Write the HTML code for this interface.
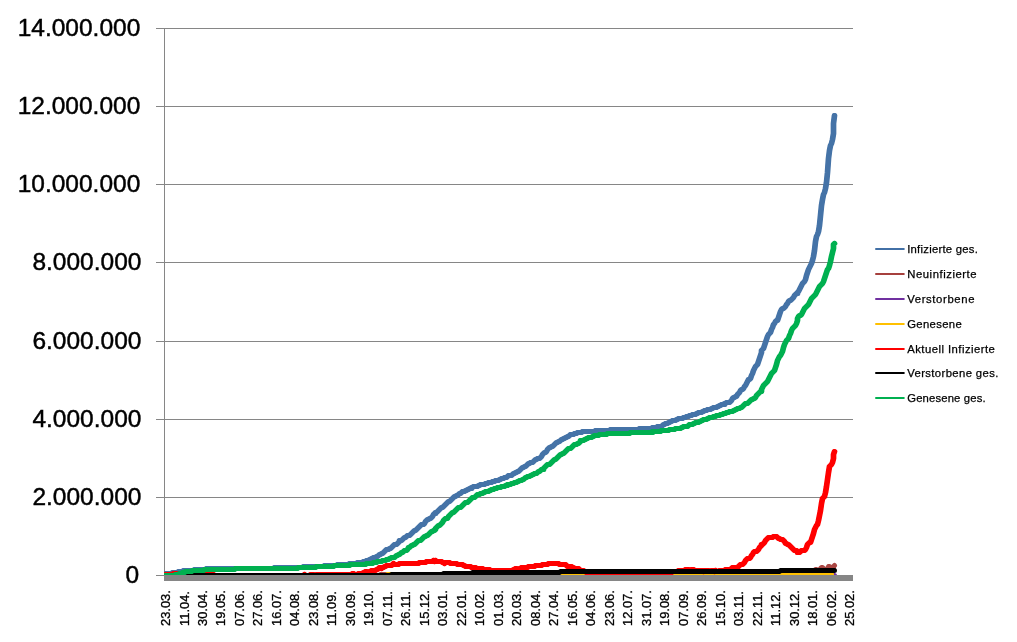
<!DOCTYPE html>
<html lang="de"><head><meta charset="utf-8"><title>Diagramm</title>
<style>html,body{margin:0;padding:0;background:#fff;}body{width:1017px;height:642px;overflow:hidden;}svg{display:block;}.yl{font-family:"Liberation Sans",sans-serif;font-size:24.5px;fill:#000;text-anchor:end;stroke:#000;stroke-width:0.45px;}.xl{font-family:"Liberation Sans",sans-serif;font-size:12.9px;fill:#000;stroke:#000;stroke-width:0.3px;}.lg{font-family:"Liberation Sans",sans-serif;font-size:11.3px;fill:#000;stroke:#000;stroke-width:0.25px;}.s{fill:none;stroke-width:5;stroke-linejoin:round;stroke-linecap:round;}</style></head><body>
<svg width="1017" height="642" viewBox="0 0 1017 642">
<rect width="1017" height="642" fill="#fff"/>
<g fill="#868686" shape-rendering="crispEdges">
<rect x="156" y="28" width="697" height="1"/>
<rect x="156" y="106" width="697" height="1"/>
<rect x="156" y="184" width="697" height="1"/>
<rect x="156" y="262" width="697" height="1"/>
<rect x="156" y="341" width="697" height="1"/>
<rect x="156" y="419" width="697" height="1"/>
<rect x="156" y="497" width="697" height="1"/>
<rect x="164" y="28" width="1" height="548"/>
<rect x="156" y="575" width="9" height="1"/>
</g>
<clipPath id="pc"><rect x="164" y="20" width="700" height="570"/></clipPath>
<g class="s" clip-path="url(#pc)">
<g stroke="#4573a7"><path transform="translate(-0.35 0)" d="M164.5 573.5 L171.5 573.5 L172.5 572.5 L177.5 572.5 L178.5 571.5 L182.5 571.5 L183.5 570.5 L193.5 570.5 L194.5 569.5 L205.5 569.5 L206.5 568.5 L273.5 568.5 L274.5 567.5 L302.5 567.5 L303.5 566.5 L323.5 566.5 L324.5 565.5 L336.5 565.5 L337.5 564.5 L348.5 564.5 L349.5 563.5 L356.5 563.5 L357.5 562.5 L363.5 562.5 L363.5 561.5 L365.5 561.5 L366.5 560.5 L368.5 560.5 L369.5 559.5 L370.5 559.5 L371.5 558.5 L372.5 558.5 L373.5 557.5 L375.5 557.5 L376.5 556.5 L377.5 556.5 L378.5 555.5 L379.5 554.5 L380.5 554.5 L381.5 553.5 L382.5 553.5 L383.5 552.5 L384.5 551.5 L385.5 550.5 L386.5 549.5 L388.5 549.5 L389.5 548.5 L390.5 548.5 L391.5 547.5 L392.5 546.5 L393.5 545.5 L394.5 544.5 L396.5 544.5 L397.5 543.5 L398.5 542.5 L399.5 541.5 L399.5 540.5 L401.5 540.5 L402.5 539.5 L403.5 538.5 L404.5 537.5 L405.5 537.5 L406.5 536.5 L407.5 535.5 L409.5 535.5 L410.5 534.5 L411.5 533.5 L412.5 532.5 L413.5 531.5 L414.5 530.5 L415.5 530.5 L416.5 529.5 L417.5 528.5 L418.5 527.5 L419.5 526.5 L420.5 525.5 L421.5 524.5 L423.5 524.5 L424.5 523.5 L425.5 521.5 L426.5 520.5 L427.5 519.5 L428.5 519.5 L429.5 518.5 L430.5 518.5 L431.5 517.5 L432.5 516.5 L433.5 514.5 L434.5 513.5 L435.5 513.5 L435.5 512.5 L436.5 512.5 L437.5 511.5 L438.5 510.5 L439.5 509.5 L440.5 508.5 L441.5 507.5 L442.5 507.5 L443.5 506.5 L444.5 505.5 L445.5 504.5 L446.5 503.5 L447.5 502.5 L448.5 501.5 L449.5 501.5 L450.5 500.5 L451.5 499.5 L452.5 498.5 L453.5 497.5 L454.5 496.5 L455.5 496.5 L456.5 495.5 L457.5 495.5 L458.5 494.5 L459.5 493.5 L460.5 493.5 L461.5 492.5 L462.5 491.5 L464.5 491.5 L465.5 490.5 L466.5 490.5 L467.5 489.5 L468.5 489.5 L469.5 488.5 L471.5 488.5 L471.5 487.5 L472.5 487.5 L473.5 486.5 L477.5 486.5 L478.5 485.5 L479.5 485.5 L480.5 484.5 L484.5 484.5 L485.5 483.5 L487.5 483.5 L488.5 482.5 L491.5 482.5 L492.5 481.5 L494.5 481.5 L495.5 480.5 L498.5 480.5 L499.5 479.5 L500.5 479.5 L501.5 478.5 L503.5 478.5 L504.5 477.5 L506.5 477.5 L507.5 476.5 L508.5 475.5 L511.5 475.5 L512.5 474.5 L513.5 473.5 L514.5 473.5 L515.5 472.5 L516.5 472.5 L517.5 471.5 L518.5 471.5 L519.5 470.5 L520.5 469.5 L521.5 468.5 L522.5 467.5 L523.5 467.5 L524.5 466.5 L525.5 466.5 L526.5 465.5 L527.5 464.5 L528.5 463.5 L529.5 463.5 L530.5 462.5 L532.5 462.5 L533.5 461.5 L534.5 460.5 L535.5 459.5 L536.5 459.5 L537.5 458.5 L539.5 458.5 L540.5 457.5 L541.5 456.5 L542.5 454.5 L543.5 453.5 L544.5 452.5 L545.5 452.5 L546.5 451.5 L547.5 449.5 L548.5 448.5 L549.5 447.5 L550.5 447.5 L551.5 446.5 L552.5 446.5 L553.5 445.5 L554.5 444.5 L555.5 443.5 L556.5 442.5 L557.5 442.5 L558.5 441.5 L559.5 441.5 L560.5 440.5 L561.5 439.5 L562.5 439.5 L563.5 438.5 L564.5 438.5 L565.5 437.5 L566.5 437.5 L567.5 436.5 L568.5 436.5 L569.5 435.5 L570.5 434.5 L573.5 434.5 L574.5 433.5 L576.5 433.5 L577.5 432.5 L581.5 432.5 L582.5 431.5 L594.5 431.5 L595.5 430.5 L609.5 430.5 L610.5 429.5 L638.5 429.5 L639.5 428.5 L651.5 428.5 L652.5 427.5 L656.5 427.5 L657.5 426.5 L661.5 426.5 L662.5 425.5 L663.5 424.5 L664.5 424.5 L665.5 423.5 L667.5 423.5 L668.5 422.5 L669.5 422.5 L670.5 421.5 L671.5 421.5 L672.5 420.5 L675.5 420.5 L676.5 419.5 L677.5 419.5 L678.5 418.5 L682.5 418.5 L683.5 417.5 L685.5 417.5 L686.5 416.5 L688.5 416.5 L689.5 415.5 L691.5 415.5 L692.5 414.5 L695.5 414.5 L696.5 413.5 L697.5 413.5 L698.5 412.5 L701.5 412.5 L702.5 411.5 L703.5 411.5 L704.5 410.5 L706.5 410.5 L707.5 409.5 L710.5 409.5 L711.5 408.5 L712.5 408.5 L713.5 407.5 L716.5 407.5 L717.5 406.5 L718.5 406.5 L719.5 405.5 L720.5 405.5 L721.5 404.5 L724.5 404.5 L724.5 403.5 L725.5 403.5 L726.5 402.5 L729.5 402.5 L730.5 401.5 L731.5 400.5 L732.5 398.5 L733.5 397.5 L734.5 397.5 L735.5 396.5 L736.5 396.5 L737.5 394.5 L738.5 393.5 L739.5 392.5 L740.5 390.5 L741.5 389.5 L742.5 389.5 L743.5 388.5 L744.5 386.5 L745.5 385.5 L746.5 383.5 L747.5 381.5 L748.5 379.5 L749.5 379.5 L750.5 378.5 L751.5 375.5 L752.5 373.5 L753.5 370.5 L754.5 368.5 L755.5 366.5 L756.5 365.5 L757.5 364.5 L758.5 361.5 L759.5 358.5 L760.5 355.5 L761.5 352.5 L761.5 350.5 L762.5 349.5 L763.5 348.5 L764.5 345.5 L765.5 342.5 L766.5 339.5 L767.5 336.5 L768.5 334.5 L769.5 333.5 L770.5 332.5 L771.5 329.5 L772.5 327.5 L773.5 324.5 L774.5 323.5 L775.5 321.5 L776.5 320.5 L777.5 320.5 L778.5 317.5 L779.5 314.5 L780.5 311.5 L781.5 309.5 L782.5 308.5 L783.5 308.5 L784.5 307.5 L785.5 306.5 L786.5 304.5 L787.5 303.5 L788.5 301.5 L789.5 300.5 L790.5 300.5 L791.5 299.5 L792.5 298.5 L793.5 297.5 L794.5 295.5 L795.5 294.5 L796.5 293.5 L797.5 293.5 L797.5 292.5 L798.5 291.5 L799.5 289.5 L800.5 287.5 L801.5 285.5 L802.5 283.5 L803.5 282.5 L804.5 281.5 L805.5 279.5 L806.5 275.5 L807.5 272.5 L808.5 269.5 L809.5 267.5 L810.5 265.5 L811.5 263.5 L812.5 260.5 L813.5 256.5 L814.5 250.5 L815.5 241.5 L816.5 236.5 L817.5 234.5 L818.5 231.5 L819.5 225.5 L820.5 215.5 L821.5 205.5 L822.5 199.5 L823.5 194.5 L824.5 192.5 L825.5 188.5 L826.5 182.5 L827.5 172.5 L828.5 158.5 L829.5 150.5 L830.5 145.5 L831.5 143.5 L832.5 139.5 L833.5 133.5 L833.5 123.5 L834.5 115.5"/><path transform="translate(0.35 0)" d="M164.5 573.5 L171.5 573.5 L172.5 572.5 L177.5 572.5 L178.5 571.5 L182.5 571.5 L183.5 570.5 L193.5 570.5 L194.5 569.5 L205.5 569.5 L206.5 568.5 L273.5 568.5 L274.5 567.5 L302.5 567.5 L303.5 566.5 L323.5 566.5 L324.5 565.5 L336.5 565.5 L337.5 564.5 L348.5 564.5 L349.5 563.5 L356.5 563.5 L357.5 562.5 L363.5 562.5 L363.5 561.5 L365.5 561.5 L366.5 560.5 L368.5 560.5 L369.5 559.5 L370.5 559.5 L371.5 558.5 L372.5 558.5 L373.5 557.5 L375.5 557.5 L376.5 556.5 L377.5 556.5 L378.5 555.5 L379.5 554.5 L380.5 554.5 L381.5 553.5 L382.5 553.5 L383.5 552.5 L384.5 551.5 L385.5 550.5 L386.5 549.5 L388.5 549.5 L389.5 548.5 L390.5 548.5 L391.5 547.5 L392.5 546.5 L393.5 545.5 L394.5 544.5 L396.5 544.5 L397.5 543.5 L398.5 542.5 L399.5 541.5 L399.5 540.5 L401.5 540.5 L402.5 539.5 L403.5 538.5 L404.5 537.5 L405.5 537.5 L406.5 536.5 L407.5 535.5 L409.5 535.5 L410.5 534.5 L411.5 533.5 L412.5 532.5 L413.5 531.5 L414.5 530.5 L415.5 530.5 L416.5 529.5 L417.5 528.5 L418.5 527.5 L419.5 526.5 L420.5 525.5 L421.5 524.5 L423.5 524.5 L424.5 523.5 L425.5 521.5 L426.5 520.5 L427.5 519.5 L428.5 519.5 L429.5 518.5 L430.5 518.5 L431.5 517.5 L432.5 516.5 L433.5 514.5 L434.5 513.5 L435.5 513.5 L435.5 512.5 L436.5 512.5 L437.5 511.5 L438.5 510.5 L439.5 509.5 L440.5 508.5 L441.5 507.5 L442.5 507.5 L443.5 506.5 L444.5 505.5 L445.5 504.5 L446.5 503.5 L447.5 502.5 L448.5 501.5 L449.5 501.5 L450.5 500.5 L451.5 499.5 L452.5 498.5 L453.5 497.5 L454.5 496.5 L455.5 496.5 L456.5 495.5 L457.5 495.5 L458.5 494.5 L459.5 493.5 L460.5 493.5 L461.5 492.5 L462.5 491.5 L464.5 491.5 L465.5 490.5 L466.5 490.5 L467.5 489.5 L468.5 489.5 L469.5 488.5 L471.5 488.5 L471.5 487.5 L472.5 487.5 L473.5 486.5 L477.5 486.5 L478.5 485.5 L479.5 485.5 L480.5 484.5 L484.5 484.5 L485.5 483.5 L487.5 483.5 L488.5 482.5 L491.5 482.5 L492.5 481.5 L494.5 481.5 L495.5 480.5 L498.5 480.5 L499.5 479.5 L500.5 479.5 L501.5 478.5 L503.5 478.5 L504.5 477.5 L506.5 477.5 L507.5 476.5 L508.5 475.5 L511.5 475.5 L512.5 474.5 L513.5 473.5 L514.5 473.5 L515.5 472.5 L516.5 472.5 L517.5 471.5 L518.5 471.5 L519.5 470.5 L520.5 469.5 L521.5 468.5 L522.5 467.5 L523.5 467.5 L524.5 466.5 L525.5 466.5 L526.5 465.5 L527.5 464.5 L528.5 463.5 L529.5 463.5 L530.5 462.5 L532.5 462.5 L533.5 461.5 L534.5 460.5 L535.5 459.5 L536.5 459.5 L537.5 458.5 L539.5 458.5 L540.5 457.5 L541.5 456.5 L542.5 454.5 L543.5 453.5 L544.5 452.5 L545.5 452.5 L546.5 451.5 L547.5 449.5 L548.5 448.5 L549.5 447.5 L550.5 447.5 L551.5 446.5 L552.5 446.5 L553.5 445.5 L554.5 444.5 L555.5 443.5 L556.5 442.5 L557.5 442.5 L558.5 441.5 L559.5 441.5 L560.5 440.5 L561.5 439.5 L562.5 439.5 L563.5 438.5 L564.5 438.5 L565.5 437.5 L566.5 437.5 L567.5 436.5 L568.5 436.5 L569.5 435.5 L570.5 434.5 L573.5 434.5 L574.5 433.5 L576.5 433.5 L577.5 432.5 L581.5 432.5 L582.5 431.5 L594.5 431.5 L595.5 430.5 L609.5 430.5 L610.5 429.5 L638.5 429.5 L639.5 428.5 L651.5 428.5 L652.5 427.5 L656.5 427.5 L657.5 426.5 L661.5 426.5 L662.5 425.5 L663.5 424.5 L664.5 424.5 L665.5 423.5 L667.5 423.5 L668.5 422.5 L669.5 422.5 L670.5 421.5 L671.5 421.5 L672.5 420.5 L675.5 420.5 L676.5 419.5 L677.5 419.5 L678.5 418.5 L682.5 418.5 L683.5 417.5 L685.5 417.5 L686.5 416.5 L688.5 416.5 L689.5 415.5 L691.5 415.5 L692.5 414.5 L695.5 414.5 L696.5 413.5 L697.5 413.5 L698.5 412.5 L701.5 412.5 L702.5 411.5 L703.5 411.5 L704.5 410.5 L706.5 410.5 L707.5 409.5 L710.5 409.5 L711.5 408.5 L712.5 408.5 L713.5 407.5 L716.5 407.5 L717.5 406.5 L718.5 406.5 L719.5 405.5 L720.5 405.5 L721.5 404.5 L724.5 404.5 L724.5 403.5 L725.5 403.5 L726.5 402.5 L729.5 402.5 L730.5 401.5 L731.5 400.5 L732.5 398.5 L733.5 397.5 L734.5 397.5 L735.5 396.5 L736.5 396.5 L737.5 394.5 L738.5 393.5 L739.5 392.5 L740.5 390.5 L741.5 389.5 L742.5 389.5 L743.5 388.5 L744.5 386.5 L745.5 385.5 L746.5 383.5 L747.5 381.5 L748.5 379.5 L749.5 379.5 L750.5 378.5 L751.5 375.5 L752.5 373.5 L753.5 370.5 L754.5 368.5 L755.5 366.5 L756.5 365.5 L757.5 364.5 L758.5 361.5 L759.5 358.5 L760.5 355.5 L761.5 352.5 L761.5 350.5 L762.5 349.5 L763.5 348.5 L764.5 345.5 L765.5 342.5 L766.5 339.5 L767.5 336.5 L768.5 334.5 L769.5 333.5 L770.5 332.5 L771.5 329.5 L772.5 327.5 L773.5 324.5 L774.5 323.5 L775.5 321.5 L776.5 320.5 L777.5 320.5 L778.5 317.5 L779.5 314.5 L780.5 311.5 L781.5 309.5 L782.5 308.5 L783.5 308.5 L784.5 307.5 L785.5 306.5 L786.5 304.5 L787.5 303.5 L788.5 301.5 L789.5 300.5 L790.5 300.5 L791.5 299.5 L792.5 298.5 L793.5 297.5 L794.5 295.5 L795.5 294.5 L796.5 293.5 L797.5 293.5 L797.5 292.5 L798.5 291.5 L799.5 289.5 L800.5 287.5 L801.5 285.5 L802.5 283.5 L803.5 282.5 L804.5 281.5 L805.5 279.5 L806.5 275.5 L807.5 272.5 L808.5 269.5 L809.5 267.5 L810.5 265.5 L811.5 263.5 L812.5 260.5 L813.5 256.5 L814.5 250.5 L815.5 241.5 L816.5 236.5 L817.5 234.5 L818.5 231.5 L819.5 225.5 L820.5 215.5 L821.5 205.5 L822.5 199.5 L823.5 194.5 L824.5 192.5 L825.5 188.5 L826.5 182.5 L827.5 172.5 L828.5 158.5 L829.5 150.5 L830.5 145.5 L831.5 143.5 L832.5 139.5 L833.5 133.5 L833.5 123.5 L834.5 115.5"/></g>
<path d="M164.5 575.5 L379.5 575.5 L380.5 574.5 L789.5 574.5 L790.5 573.5 L804.5 573.5 L805.5 572.5 L809.5 572.5 L810.5 571.5 L812.5 571.5 L813.5 570.5 L814.5 570.5 L815.5 569.5 L816.5 569.5 L817.5 570.5 L819.5 570.5 L820.5 568.5 L821.5 567.5 L822.5 567.5 L823.5 568.5 L824.5 569.5 L826.5 569.5 L827.5 568.5 L828.5 566.5 L829.5 566.5 L830.5 567.5 L831.5 568.5 L833.5 568.5 L833.5 566.5 L834.5 565.5" stroke="#aa4643"/>
<path d="M164.5 575.5 L834.5 575.5" stroke="#7030a0"/>
<path d="M164.5 575.5 L386.5 575.5 L387.5 574.5 L831.5 574.5" stroke="#ffc000"/>
<g stroke="#ff0000"><path transform="translate(-0.35 0)" d="M164.5 574.5 L172.5 574.5 L173.5 573.5 L184.5 573.5 L185.5 574.5 L186.5 573.5 L190.5 573.5 L191.5 574.5 L213.5 574.5 L214.5 575.5 L303.5 575.5 L304.5 574.5 L305.5 575.5 L309.5 575.5 L310.5 574.5 L313.5 574.5 L314.5 575.5 L315.5 575.5 L316.5 574.5 L351.5 574.5 L352.5 573.5 L353.5 573.5 L354.5 574.5 L357.5 574.5 L358.5 573.5 L363.5 573.5 L363.5 572.5 L364.5 572.5 L365.5 571.5 L366.5 571.5 L367.5 572.5 L368.5 572.5 L369.5 571.5 L370.5 571.5 L371.5 570.5 L375.5 570.5 L376.5 569.5 L377.5 569.5 L378.5 568.5 L379.5 567.5 L380.5 567.5 L381.5 568.5 L382.5 567.5 L383.5 567.5 L384.5 566.5 L385.5 566.5 L386.5 565.5 L391.5 565.5 L392.5 564.5 L393.5 563.5 L394.5 564.5 L398.5 564.5 L399.5 563.5 L418.5 563.5 L419.5 562.5 L425.5 562.5 L426.5 561.5 L432.5 561.5 L433.5 560.5 L434.5 561.5 L435.5 560.5 L435.5 561.5 L441.5 561.5 L442.5 562.5 L443.5 562.5 L444.5 563.5 L445.5 562.5 L449.5 562.5 L450.5 563.5 L456.5 563.5 L457.5 564.5 L462.5 564.5 L463.5 565.5 L464.5 565.5 L465.5 566.5 L470.5 566.5 L471.5 567.5 L475.5 567.5 L476.5 568.5 L482.5 568.5 L483.5 569.5 L484.5 569.5 L485.5 570.5 L486.5 569.5 L489.5 569.5 L490.5 570.5 L512.5 570.5 L513.5 569.5 L514.5 569.5 L515.5 568.5 L516.5 568.5 L517.5 569.5 L518.5 569.5 L519.5 568.5 L520.5 568.5 L521.5 567.5 L527.5 567.5 L528.5 566.5 L534.5 566.5 L535.5 565.5 L541.5 565.5 L542.5 564.5 L547.5 564.5 L548.5 563.5 L558.5 563.5 L559.5 564.5 L565.5 564.5 L566.5 565.5 L567.5 566.5 L571.5 566.5 L572.5 567.5 L573.5 567.5 L574.5 568.5 L578.5 568.5 L579.5 569.5 L580.5 570.5 L583.5 570.5 L584.5 571.5 L585.5 571.5 L586.5 572.5 L587.5 573.5 L590.5 573.5 L591.5 574.5 L593.5 574.5 L594.5 575.5 L595.5 574.5 L599.5 574.5 L600.5 575.5 L602.5 575.5 L603.5 574.5 L608.5 574.5 L609.5 575.5 L613.5 575.5 L614.5 574.5 L615.5 575.5 L616.5 575.5 L616.5 574.5 L617.5 575.5 L648.5 575.5 L649.5 574.5 L653.5 574.5 L654.5 575.5 L656.5 575.5 L657.5 574.5 L664.5 574.5 L665.5 573.5 L666.5 573.5 L667.5 574.5 L669.5 574.5 L670.5 573.5 L671.5 572.5 L672.5 571.5 L677.5 571.5 L678.5 570.5 L684.5 570.5 L685.5 569.5 L688.5 569.5 L689.5 570.5 L690.5 570.5 L691.5 569.5 L693.5 569.5 L694.5 570.5 L702.5 570.5 L703.5 571.5 L704.5 570.5 L708.5 570.5 L709.5 571.5 L710.5 571.5 L711.5 570.5 L713.5 570.5 L714.5 571.5 L715.5 570.5 L716.5 571.5 L718.5 571.5 L719.5 570.5 L724.5 570.5 L725.5 569.5 L730.5 569.5 L731.5 568.5 L732.5 567.5 L737.5 567.5 L738.5 566.5 L739.5 565.5 L740.5 564.5 L742.5 564.5 L743.5 563.5 L744.5 562.5 L745.5 560.5 L746.5 559.5 L747.5 558.5 L749.5 558.5 L750.5 557.5 L751.5 555.5 L752.5 554.5 L753.5 552.5 L754.5 551.5 L756.5 551.5 L757.5 550.5 L758.5 549.5 L759.5 547.5 L760.5 546.5 L761.5 545.5 L761.5 544.5 L762.5 544.5 L763.5 543.5 L764.5 542.5 L765.5 540.5 L766.5 539.5 L767.5 538.5 L768.5 537.5 L772.5 537.5 L773.5 536.5 L776.5 536.5 L777.5 537.5 L778.5 538.5 L779.5 538.5 L780.5 539.5 L782.5 539.5 L783.5 540.5 L784.5 541.5 L785.5 543.5 L786.5 543.5 L787.5 544.5 L788.5 544.5 L789.5 545.5 L790.5 546.5 L791.5 547.5 L792.5 548.5 L793.5 549.5 L794.5 550.5 L796.5 550.5 L797.5 551.5 L797.5 552.5 L799.5 552.5 L800.5 551.5 L801.5 550.5 L804.5 550.5 L805.5 549.5 L806.5 547.5 L807.5 544.5 L808.5 543.5 L809.5 542.5 L810.5 542.5 L811.5 539.5 L812.5 536.5 L813.5 533.5 L814.5 529.5 L815.5 527.5 L816.5 525.5 L817.5 524.5 L818.5 520.5 L819.5 515.5 L820.5 510.5 L821.5 503.5 L822.5 498.5 L823.5 497.5 L824.5 496.5 L825.5 492.5 L826.5 486.5 L827.5 479.5 L828.5 472.5 L829.5 466.5 L830.5 465.5 L831.5 464.5 L832.5 462.5 L833.5 458.5 L833.5 454.5 L834.5 451.5"/><path transform="translate(0.35 0)" d="M164.5 574.5 L172.5 574.5 L173.5 573.5 L184.5 573.5 L185.5 574.5 L186.5 573.5 L190.5 573.5 L191.5 574.5 L213.5 574.5 L214.5 575.5 L303.5 575.5 L304.5 574.5 L305.5 575.5 L309.5 575.5 L310.5 574.5 L313.5 574.5 L314.5 575.5 L315.5 575.5 L316.5 574.5 L351.5 574.5 L352.5 573.5 L353.5 573.5 L354.5 574.5 L357.5 574.5 L358.5 573.5 L363.5 573.5 L363.5 572.5 L364.5 572.5 L365.5 571.5 L366.5 571.5 L367.5 572.5 L368.5 572.5 L369.5 571.5 L370.5 571.5 L371.5 570.5 L375.5 570.5 L376.5 569.5 L377.5 569.5 L378.5 568.5 L379.5 567.5 L380.5 567.5 L381.5 568.5 L382.5 567.5 L383.5 567.5 L384.5 566.5 L385.5 566.5 L386.5 565.5 L391.5 565.5 L392.5 564.5 L393.5 563.5 L394.5 564.5 L398.5 564.5 L399.5 563.5 L418.5 563.5 L419.5 562.5 L425.5 562.5 L426.5 561.5 L432.5 561.5 L433.5 560.5 L434.5 561.5 L435.5 560.5 L435.5 561.5 L441.5 561.5 L442.5 562.5 L443.5 562.5 L444.5 563.5 L445.5 562.5 L449.5 562.5 L450.5 563.5 L456.5 563.5 L457.5 564.5 L462.5 564.5 L463.5 565.5 L464.5 565.5 L465.5 566.5 L470.5 566.5 L471.5 567.5 L475.5 567.5 L476.5 568.5 L482.5 568.5 L483.5 569.5 L484.5 569.5 L485.5 570.5 L486.5 569.5 L489.5 569.5 L490.5 570.5 L512.5 570.5 L513.5 569.5 L514.5 569.5 L515.5 568.5 L516.5 568.5 L517.5 569.5 L518.5 569.5 L519.5 568.5 L520.5 568.5 L521.5 567.5 L527.5 567.5 L528.5 566.5 L534.5 566.5 L535.5 565.5 L541.5 565.5 L542.5 564.5 L547.5 564.5 L548.5 563.5 L558.5 563.5 L559.5 564.5 L565.5 564.5 L566.5 565.5 L567.5 566.5 L571.5 566.5 L572.5 567.5 L573.5 567.5 L574.5 568.5 L578.5 568.5 L579.5 569.5 L580.5 570.5 L583.5 570.5 L584.5 571.5 L585.5 571.5 L586.5 572.5 L587.5 573.5 L590.5 573.5 L591.5 574.5 L593.5 574.5 L594.5 575.5 L595.5 574.5 L599.5 574.5 L600.5 575.5 L602.5 575.5 L603.5 574.5 L608.5 574.5 L609.5 575.5 L613.5 575.5 L614.5 574.5 L615.5 575.5 L616.5 575.5 L616.5 574.5 L617.5 575.5 L648.5 575.5 L649.5 574.5 L653.5 574.5 L654.5 575.5 L656.5 575.5 L657.5 574.5 L664.5 574.5 L665.5 573.5 L666.5 573.5 L667.5 574.5 L669.5 574.5 L670.5 573.5 L671.5 572.5 L672.5 571.5 L677.5 571.5 L678.5 570.5 L684.5 570.5 L685.5 569.5 L688.5 569.5 L689.5 570.5 L690.5 570.5 L691.5 569.5 L693.5 569.5 L694.5 570.5 L702.5 570.5 L703.5 571.5 L704.5 570.5 L708.5 570.5 L709.5 571.5 L710.5 571.5 L711.5 570.5 L713.5 570.5 L714.5 571.5 L715.5 570.5 L716.5 571.5 L718.5 571.5 L719.5 570.5 L724.5 570.5 L725.5 569.5 L730.5 569.5 L731.5 568.5 L732.5 567.5 L737.5 567.5 L738.5 566.5 L739.5 565.5 L740.5 564.5 L742.5 564.5 L743.5 563.5 L744.5 562.5 L745.5 560.5 L746.5 559.5 L747.5 558.5 L749.5 558.5 L750.5 557.5 L751.5 555.5 L752.5 554.5 L753.5 552.5 L754.5 551.5 L756.5 551.5 L757.5 550.5 L758.5 549.5 L759.5 547.5 L760.5 546.5 L761.5 545.5 L761.5 544.5 L762.5 544.5 L763.5 543.5 L764.5 542.5 L765.5 540.5 L766.5 539.5 L767.5 538.5 L768.5 537.5 L772.5 537.5 L773.5 536.5 L776.5 536.5 L777.5 537.5 L778.5 538.5 L779.5 538.5 L780.5 539.5 L782.5 539.5 L783.5 540.5 L784.5 541.5 L785.5 543.5 L786.5 543.5 L787.5 544.5 L788.5 544.5 L789.5 545.5 L790.5 546.5 L791.5 547.5 L792.5 548.5 L793.5 549.5 L794.5 550.5 L796.5 550.5 L797.5 551.5 L797.5 552.5 L799.5 552.5 L800.5 551.5 L801.5 550.5 L804.5 550.5 L805.5 549.5 L806.5 547.5 L807.5 544.5 L808.5 543.5 L809.5 542.5 L810.5 542.5 L811.5 539.5 L812.5 536.5 L813.5 533.5 L814.5 529.5 L815.5 527.5 L816.5 525.5 L817.5 524.5 L818.5 520.5 L819.5 515.5 L820.5 510.5 L821.5 503.5 L822.5 498.5 L823.5 497.5 L824.5 496.5 L825.5 492.5 L826.5 486.5 L827.5 479.5 L828.5 472.5 L829.5 466.5 L830.5 465.5 L831.5 464.5 L832.5 462.5 L833.5 458.5 L833.5 454.5 L834.5 451.5"/></g>
<path d="M164.5 575.5 L390.5 575.5 L391.5 574.5 L442.5 574.5 L443.5 573.5 L471.5 573.5 L472.5 572.5 L559.5 572.5 L560.5 571.5 L779.5 571.5 L780.5 570.5 L834.5 570.5" stroke="#000000"/>
<g stroke="#00b050"><path transform="translate(-0.35 0)" d="M164.5 575.5 L174.5 575.5 L175.5 574.5 L178.5 574.5 L179.5 573.5 L182.5 573.5 L182.5 572.5 L184.5 572.5 L185.5 571.5 L191.5 571.5 L192.5 570.5 L203.5 570.5 L204.5 569.5 L234.5 569.5 L235.5 568.5 L297.5 568.5 L298.5 567.5 L315.5 567.5 L316.5 566.5 L333.5 566.5 L334.5 565.5 L349.5 565.5 L350.5 564.5 L365.5 564.5 L366.5 563.5 L372.5 563.5 L373.5 562.5 L376.5 562.5 L377.5 561.5 L381.5 561.5 L382.5 560.5 L385.5 560.5 L386.5 559.5 L388.5 559.5 L389.5 558.5 L390.5 558.5 L391.5 557.5 L394.5 557.5 L395.5 556.5 L396.5 555.5 L397.5 555.5 L398.5 554.5 L399.5 554.5 L400.5 553.5 L401.5 552.5 L402.5 552.5 L403.5 551.5 L404.5 550.5 L406.5 550.5 L407.5 549.5 L408.5 547.5 L409.5 547.5 L410.5 546.5 L411.5 545.5 L412.5 545.5 L413.5 544.5 L414.5 544.5 L415.5 543.5 L416.5 542.5 L417.5 541.5 L418.5 540.5 L420.5 540.5 L421.5 539.5 L422.5 538.5 L423.5 537.5 L424.5 536.5 L425.5 536.5 L426.5 535.5 L427.5 535.5 L428.5 534.5 L429.5 533.5 L430.5 532.5 L431.5 531.5 L432.5 531.5 L433.5 530.5 L434.5 530.5 L435.5 529.5 L435.5 528.5 L436.5 527.5 L437.5 526.5 L438.5 525.5 L439.5 525.5 L440.5 524.5 L441.5 523.5 L442.5 522.5 L443.5 520.5 L444.5 519.5 L445.5 518.5 L447.5 518.5 L448.5 516.5 L449.5 515.5 L450.5 514.5 L451.5 513.5 L452.5 512.5 L453.5 512.5 L454.5 511.5 L455.5 510.5 L456.5 509.5 L457.5 508.5 L458.5 507.5 L460.5 507.5 L461.5 506.5 L462.5 505.5 L463.5 504.5 L464.5 503.5 L465.5 502.5 L467.5 502.5 L468.5 501.5 L469.5 500.5 L470.5 499.5 L471.5 498.5 L472.5 497.5 L474.5 497.5 L475.5 496.5 L476.5 495.5 L477.5 494.5 L479.5 494.5 L480.5 493.5 L482.5 493.5 L483.5 492.5 L484.5 492.5 L485.5 491.5 L488.5 491.5 L489.5 490.5 L490.5 490.5 L491.5 489.5 L493.5 489.5 L494.5 488.5 L496.5 488.5 L497.5 487.5 L500.5 487.5 L501.5 486.5 L504.5 486.5 L505.5 485.5 L507.5 485.5 L507.5 484.5 L510.5 484.5 L511.5 483.5 L513.5 483.5 L514.5 482.5 L516.5 482.5 L517.5 481.5 L518.5 481.5 L519.5 480.5 L521.5 480.5 L522.5 479.5 L523.5 479.5 L524.5 478.5 L525.5 477.5 L526.5 477.5 L527.5 476.5 L529.5 476.5 L530.5 475.5 L531.5 475.5 L532.5 474.5 L533.5 474.5 L534.5 473.5 L536.5 473.5 L537.5 472.5 L538.5 471.5 L539.5 471.5 L540.5 470.5 L541.5 469.5 L543.5 469.5 L543.5 468.5 L544.5 467.5 L545.5 466.5 L546.5 465.5 L547.5 464.5 L549.5 464.5 L550.5 463.5 L551.5 462.5 L552.5 461.5 L553.5 460.5 L554.5 459.5 L555.5 459.5 L556.5 458.5 L557.5 457.5 L558.5 456.5 L559.5 455.5 L560.5 454.5 L561.5 454.5 L562.5 453.5 L563.5 453.5 L564.5 452.5 L565.5 451.5 L566.5 450.5 L567.5 449.5 L568.5 448.5 L570.5 448.5 L571.5 447.5 L572.5 446.5 L573.5 445.5 L574.5 444.5 L576.5 444.5 L577.5 443.5 L578.5 443.5 L579.5 442.5 L580.5 441.5 L580.5 440.5 L583.5 440.5 L584.5 439.5 L585.5 439.5 L586.5 438.5 L587.5 438.5 L588.5 437.5 L591.5 437.5 L592.5 436.5 L593.5 436.5 L594.5 435.5 L598.5 435.5 L599.5 434.5 L606.5 434.5 L607.5 433.5 L629.5 433.5 L630.5 432.5 L652.5 432.5 L652.5 431.5 L660.5 431.5 L661.5 430.5 L668.5 430.5 L669.5 429.5 L674.5 429.5 L675.5 428.5 L680.5 428.5 L681.5 427.5 L682.5 427.5 L683.5 426.5 L687.5 426.5 L688.5 425.5 L689.5 424.5 L692.5 424.5 L693.5 423.5 L694.5 423.5 L695.5 422.5 L698.5 422.5 L699.5 421.5 L700.5 421.5 L701.5 420.5 L702.5 420.5 L703.5 419.5 L706.5 419.5 L707.5 418.5 L708.5 418.5 L709.5 417.5 L712.5 417.5 L713.5 416.5 L715.5 416.5 L716.5 415.5 L719.5 415.5 L720.5 414.5 L722.5 414.5 L723.5 413.5 L725.5 413.5 L726.5 412.5 L728.5 412.5 L729.5 411.5 L732.5 411.5 L733.5 410.5 L734.5 410.5 L735.5 409.5 L736.5 409.5 L737.5 408.5 L739.5 408.5 L740.5 407.5 L741.5 407.5 L742.5 406.5 L743.5 405.5 L744.5 404.5 L745.5 403.5 L747.5 403.5 L748.5 402.5 L749.5 401.5 L750.5 400.5 L751.5 399.5 L752.5 399.5 L753.5 398.5 L754.5 398.5 L755.5 397.5 L756.5 395.5 L757.5 394.5 L758.5 393.5 L759.5 392.5 L760.5 391.5 L761.5 391.5 L761.5 389.5 L762.5 387.5 L763.5 385.5 L764.5 384.5 L765.5 383.5 L766.5 382.5 L767.5 381.5 L768.5 379.5 L769.5 377.5 L770.5 375.5 L771.5 373.5 L772.5 372.5 L773.5 371.5 L774.5 370.5 L775.5 367.5 L776.5 364.5 L777.5 360.5 L778.5 358.5 L779.5 356.5 L780.5 355.5 L781.5 353.5 L782.5 351.5 L783.5 347.5 L784.5 344.5 L785.5 342.5 L786.5 340.5 L787.5 339.5 L788.5 338.5 L789.5 335.5 L790.5 333.5 L791.5 330.5 L792.5 328.5 L793.5 327.5 L794.5 326.5 L795.5 325.5 L796.5 323.5 L797.5 320.5 L797.5 318.5 L798.5 316.5 L799.5 315.5 L800.5 315.5 L801.5 314.5 L802.5 312.5 L803.5 310.5 L804.5 308.5 L805.5 307.5 L806.5 306.5 L807.5 305.5 L808.5 304.5 L809.5 302.5 L810.5 300.5 L811.5 298.5 L812.5 297.5 L813.5 296.5 L814.5 295.5 L815.5 294.5 L816.5 292.5 L817.5 290.5 L818.5 288.5 L819.5 286.5 L820.5 285.5 L821.5 284.5 L822.5 283.5 L823.5 281.5 L824.5 278.5 L825.5 275.5 L826.5 272.5 L827.5 269.5 L828.5 268.5 L829.5 265.5 L830.5 261.5 L831.5 256.5 L832.5 252.5 L833.5 248.5 L833.5 244.5 L834.5 243.5"/><path transform="translate(0.35 0)" d="M164.5 575.5 L174.5 575.5 L175.5 574.5 L178.5 574.5 L179.5 573.5 L182.5 573.5 L182.5 572.5 L184.5 572.5 L185.5 571.5 L191.5 571.5 L192.5 570.5 L203.5 570.5 L204.5 569.5 L234.5 569.5 L235.5 568.5 L297.5 568.5 L298.5 567.5 L315.5 567.5 L316.5 566.5 L333.5 566.5 L334.5 565.5 L349.5 565.5 L350.5 564.5 L365.5 564.5 L366.5 563.5 L372.5 563.5 L373.5 562.5 L376.5 562.5 L377.5 561.5 L381.5 561.5 L382.5 560.5 L385.5 560.5 L386.5 559.5 L388.5 559.5 L389.5 558.5 L390.5 558.5 L391.5 557.5 L394.5 557.5 L395.5 556.5 L396.5 555.5 L397.5 555.5 L398.5 554.5 L399.5 554.5 L400.5 553.5 L401.5 552.5 L402.5 552.5 L403.5 551.5 L404.5 550.5 L406.5 550.5 L407.5 549.5 L408.5 547.5 L409.5 547.5 L410.5 546.5 L411.5 545.5 L412.5 545.5 L413.5 544.5 L414.5 544.5 L415.5 543.5 L416.5 542.5 L417.5 541.5 L418.5 540.5 L420.5 540.5 L421.5 539.5 L422.5 538.5 L423.5 537.5 L424.5 536.5 L425.5 536.5 L426.5 535.5 L427.5 535.5 L428.5 534.5 L429.5 533.5 L430.5 532.5 L431.5 531.5 L432.5 531.5 L433.5 530.5 L434.5 530.5 L435.5 529.5 L435.5 528.5 L436.5 527.5 L437.5 526.5 L438.5 525.5 L439.5 525.5 L440.5 524.5 L441.5 523.5 L442.5 522.5 L443.5 520.5 L444.5 519.5 L445.5 518.5 L447.5 518.5 L448.5 516.5 L449.5 515.5 L450.5 514.5 L451.5 513.5 L452.5 512.5 L453.5 512.5 L454.5 511.5 L455.5 510.5 L456.5 509.5 L457.5 508.5 L458.5 507.5 L460.5 507.5 L461.5 506.5 L462.5 505.5 L463.5 504.5 L464.5 503.5 L465.5 502.5 L467.5 502.5 L468.5 501.5 L469.5 500.5 L470.5 499.5 L471.5 498.5 L472.5 497.5 L474.5 497.5 L475.5 496.5 L476.5 495.5 L477.5 494.5 L479.5 494.5 L480.5 493.5 L482.5 493.5 L483.5 492.5 L484.5 492.5 L485.5 491.5 L488.5 491.5 L489.5 490.5 L490.5 490.5 L491.5 489.5 L493.5 489.5 L494.5 488.5 L496.5 488.5 L497.5 487.5 L500.5 487.5 L501.5 486.5 L504.5 486.5 L505.5 485.5 L507.5 485.5 L507.5 484.5 L510.5 484.5 L511.5 483.5 L513.5 483.5 L514.5 482.5 L516.5 482.5 L517.5 481.5 L518.5 481.5 L519.5 480.5 L521.5 480.5 L522.5 479.5 L523.5 479.5 L524.5 478.5 L525.5 477.5 L526.5 477.5 L527.5 476.5 L529.5 476.5 L530.5 475.5 L531.5 475.5 L532.5 474.5 L533.5 474.5 L534.5 473.5 L536.5 473.5 L537.5 472.5 L538.5 471.5 L539.5 471.5 L540.5 470.5 L541.5 469.5 L543.5 469.5 L543.5 468.5 L544.5 467.5 L545.5 466.5 L546.5 465.5 L547.5 464.5 L549.5 464.5 L550.5 463.5 L551.5 462.5 L552.5 461.5 L553.5 460.5 L554.5 459.5 L555.5 459.5 L556.5 458.5 L557.5 457.5 L558.5 456.5 L559.5 455.5 L560.5 454.5 L561.5 454.5 L562.5 453.5 L563.5 453.5 L564.5 452.5 L565.5 451.5 L566.5 450.5 L567.5 449.5 L568.5 448.5 L570.5 448.5 L571.5 447.5 L572.5 446.5 L573.5 445.5 L574.5 444.5 L576.5 444.5 L577.5 443.5 L578.5 443.5 L579.5 442.5 L580.5 441.5 L580.5 440.5 L583.5 440.5 L584.5 439.5 L585.5 439.5 L586.5 438.5 L587.5 438.5 L588.5 437.5 L591.5 437.5 L592.5 436.5 L593.5 436.5 L594.5 435.5 L598.5 435.5 L599.5 434.5 L606.5 434.5 L607.5 433.5 L629.5 433.5 L630.5 432.5 L652.5 432.5 L652.5 431.5 L660.5 431.5 L661.5 430.5 L668.5 430.5 L669.5 429.5 L674.5 429.5 L675.5 428.5 L680.5 428.5 L681.5 427.5 L682.5 427.5 L683.5 426.5 L687.5 426.5 L688.5 425.5 L689.5 424.5 L692.5 424.5 L693.5 423.5 L694.5 423.5 L695.5 422.5 L698.5 422.5 L699.5 421.5 L700.5 421.5 L701.5 420.5 L702.5 420.5 L703.5 419.5 L706.5 419.5 L707.5 418.5 L708.5 418.5 L709.5 417.5 L712.5 417.5 L713.5 416.5 L715.5 416.5 L716.5 415.5 L719.5 415.5 L720.5 414.5 L722.5 414.5 L723.5 413.5 L725.5 413.5 L726.5 412.5 L728.5 412.5 L729.5 411.5 L732.5 411.5 L733.5 410.5 L734.5 410.5 L735.5 409.5 L736.5 409.5 L737.5 408.5 L739.5 408.5 L740.5 407.5 L741.5 407.5 L742.5 406.5 L743.5 405.5 L744.5 404.5 L745.5 403.5 L747.5 403.5 L748.5 402.5 L749.5 401.5 L750.5 400.5 L751.5 399.5 L752.5 399.5 L753.5 398.5 L754.5 398.5 L755.5 397.5 L756.5 395.5 L757.5 394.5 L758.5 393.5 L759.5 392.5 L760.5 391.5 L761.5 391.5 L761.5 389.5 L762.5 387.5 L763.5 385.5 L764.5 384.5 L765.5 383.5 L766.5 382.5 L767.5 381.5 L768.5 379.5 L769.5 377.5 L770.5 375.5 L771.5 373.5 L772.5 372.5 L773.5 371.5 L774.5 370.5 L775.5 367.5 L776.5 364.5 L777.5 360.5 L778.5 358.5 L779.5 356.5 L780.5 355.5 L781.5 353.5 L782.5 351.5 L783.5 347.5 L784.5 344.5 L785.5 342.5 L786.5 340.5 L787.5 339.5 L788.5 338.5 L789.5 335.5 L790.5 333.5 L791.5 330.5 L792.5 328.5 L793.5 327.5 L794.5 326.5 L795.5 325.5 L796.5 323.5 L797.5 320.5 L797.5 318.5 L798.5 316.5 L799.5 315.5 L800.5 315.5 L801.5 314.5 L802.5 312.5 L803.5 310.5 L804.5 308.5 L805.5 307.5 L806.5 306.5 L807.5 305.5 L808.5 304.5 L809.5 302.5 L810.5 300.5 L811.5 298.5 L812.5 297.5 L813.5 296.5 L814.5 295.5 L815.5 294.5 L816.5 292.5 L817.5 290.5 L818.5 288.5 L819.5 286.5 L820.5 285.5 L821.5 284.5 L822.5 283.5 L823.5 281.5 L824.5 278.5 L825.5 275.5 L826.5 272.5 L827.5 269.5 L828.5 268.5 L829.5 265.5 L830.5 261.5 L831.5 256.5 L832.5 252.5 L833.5 248.5 L833.5 244.5 L834.5 243.5"/></g>
</g>
<rect x="164" y="575" width="689" height="6" fill="#868686" shape-rendering="crispEdges"/>
<g class="yl">
<text x="140.3" y="35.5">14.000.000</text>
<text x="140.3" y="113.5">12.000.000</text>
<text x="140.3" y="191.5">10.000.000</text>
<text x="141.4" y="269.5">8.000.000</text>
<text x="141.4" y="348.5">6.000.000</text>
<text x="141.4" y="426.5">4.000.000</text>
<text x="141.4" y="504.5">2.000.000</text>
<text x="139.2" y="582.5">0</text>
</g>
<g class="xl">
<text transform="translate(170.1 626) rotate(-90) scale(1 1.04)">23.03.</text>
<text transform="translate(189.1 626) rotate(-90) scale(1 1.04)">11.04.</text>
<text transform="translate(207.1 626) rotate(-90) scale(1 1.04)">30.04.</text>
<text transform="translate(225.1 626) rotate(-90) scale(1 1.04)">19.05.</text>
<text transform="translate(244.1 626) rotate(-90) scale(1 1.04)">07.06.</text>
<text transform="translate(262.1 626) rotate(-90) scale(1 1.04)">27.06.</text>
<text transform="translate(281.1 626) rotate(-90) scale(1 1.04)">16.07.</text>
<text transform="translate(299.1 626) rotate(-90) scale(1 1.04)">04.08.</text>
<text transform="translate(318.1 626) rotate(-90) scale(1 1.04)">23.08.</text>
<text transform="translate(336.1 626) rotate(-90) scale(1 1.04)">11.09.</text>
<text transform="translate(355.1 626) rotate(-90) scale(1 1.04)">30.09.</text>
<text transform="translate(373.1 626) rotate(-90) scale(1 1.04)">19.10.</text>
<text transform="translate(392.1 626) rotate(-90) scale(1 1.04)">07.11.</text>
<text transform="translate(410.1 626) rotate(-90) scale(1 1.04)">26.11.</text>
<text transform="translate(429.1 626) rotate(-90) scale(1 1.04)">15.12.</text>
<text transform="translate(447.1 626) rotate(-90) scale(1 1.04)">03.01.</text>
<text transform="translate(466.1 626) rotate(-90) scale(1 1.04)">22.01.</text>
<text transform="translate(484.1 626) rotate(-90) scale(1 1.04)">10.02.</text>
<text transform="translate(503.1 626) rotate(-90) scale(1 1.04)">01.03.</text>
<text transform="translate(521.1 626) rotate(-90) scale(1 1.04)">20.03.</text>
<text transform="translate(540.1 626) rotate(-90) scale(1 1.04)">08.04.</text>
<text transform="translate(558.1 626) rotate(-90) scale(1 1.04)">27.04.</text>
<text transform="translate(577.1 626) rotate(-90) scale(1 1.04)">16.05.</text>
<text transform="translate(595.1 626) rotate(-90) scale(1 1.04)">04.06.</text>
<text transform="translate(614.1 626) rotate(-90) scale(1 1.04)">23.06.</text>
<text transform="translate(632.1 626) rotate(-90) scale(1 1.04)">12.07.</text>
<text transform="translate(651.1 626) rotate(-90) scale(1 1.04)">31.07.</text>
<text transform="translate(669.1 626) rotate(-90) scale(1 1.04)">19.08.</text>
<text transform="translate(688.1 626) rotate(-90) scale(1 1.04)">07.09.</text>
<text transform="translate(706.1 626) rotate(-90) scale(1 1.04)">26.09.</text>
<text transform="translate(725.1 626) rotate(-90) scale(1 1.04)">15.10.</text>
<text transform="translate(743.1 626) rotate(-90) scale(1 1.04)">03.11.</text>
<text transform="translate(762.1 626) rotate(-90) scale(1 1.04)">22.11.</text>
<text transform="translate(780.1 626) rotate(-90) scale(1 1.04)">11.12.</text>
<text transform="translate(799.1 626) rotate(-90) scale(1 1.04)">30.12.</text>
<text transform="translate(817.1 626) rotate(-90) scale(1 1.04)">18.01.</text>
<text transform="translate(836.1 626) rotate(-90) scale(1 1.04)">06.02.</text>
<text transform="translate(854.1 626) rotate(-90) scale(1 1.04)">25.02.</text>
</g>
<g>
<line x1="876" y1="249" x2="903.8" y2="249" stroke="#4270a6" stroke-width="2" stroke-linecap="round"/>
<text class="lg" x="907.2" y="253.00" textLength="70.7" lengthAdjust="spacing">Infizierte ges.</text>
<line x1="876" y1="274" x2="903.8" y2="274" stroke="#a6403d" stroke-width="2" stroke-linecap="round"/>
<text class="lg" x="907.2" y="278.00" textLength="69.4" lengthAdjust="spacing">Neuinfizierte</text>
<line x1="876" y1="299" x2="903.8" y2="299" stroke="#7030a0" stroke-width="2" stroke-linecap="round"/>
<text class="lg" x="907.2" y="303.00" textLength="67.3" lengthAdjust="spacing">Verstorbene</text>
<line x1="876" y1="324" x2="903.8" y2="324" stroke="#ffc000" stroke-width="2" stroke-linecap="round"/>
<text class="lg" x="907.2" y="328.00" textLength="54.5" lengthAdjust="spacing">Genesene</text>
<line x1="876" y1="349" x2="903.8" y2="349" stroke="#ff0000" stroke-width="2" stroke-linecap="round"/>
<text class="lg" x="907.2" y="353.00" textLength="87.7" lengthAdjust="spacing">Aktuell Infizierte</text>
<line x1="876" y1="373" x2="903.8" y2="373" stroke="#000000" stroke-width="2" stroke-linecap="round"/>
<text class="lg" x="907.2" y="377.00" textLength="91.1" lengthAdjust="spacing">Verstorbene ges.</text>
<line x1="876" y1="398" x2="903.8" y2="398" stroke="#00b050" stroke-width="2" stroke-linecap="round"/>
<text class="lg" x="907.2" y="402.00" textLength="78.4" lengthAdjust="spacing">Genesene ges.</text>
</g>
</svg></body></html>
